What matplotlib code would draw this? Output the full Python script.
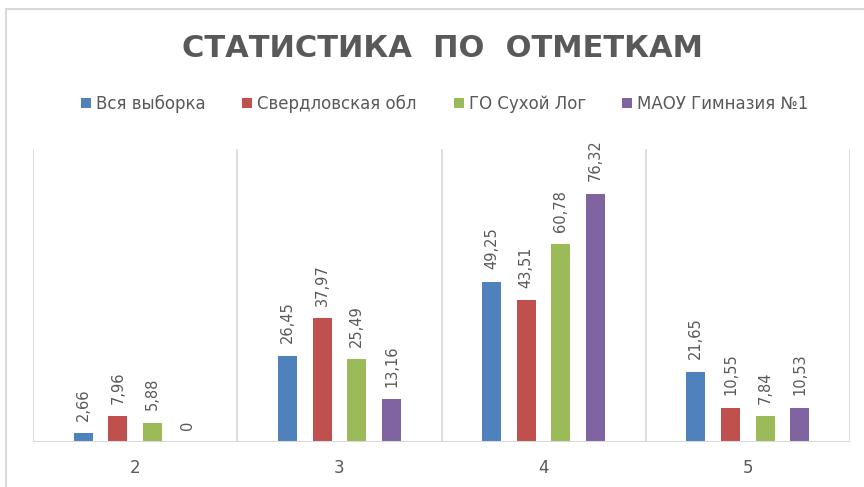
import numpy as np
import matplotlib.pyplot as plt
from matplotlib.patches import Rectangle

grades = ['2', '3', '4', '5']
series = ['Вся выборка', 'Свердловская обл', 'ГО Сухой Лог', 'МАОУ Гимназия №1']
vsya = [2.66, 26.45, 49.25, 21.65]
sverdl = [7.96, 37.97, 43.51, 10.55]
suhoi_log = [5.88, 25.49, 60.78, 7.84]
gimnaziya = [0, 13.16, 76.32, 10.53]
colors = ['#4F81BD', '#C0504D', '#9BBB59', '#8064A2']

plt.rcParams['font.family'] = ['DejaVu Sans']
txt = '#595959'

fig = plt.figure(figsize=(8.64, 4.87), dpi=100)
fig.patches.append(Rectangle((6 / 864, -0.1), 1.2, 1 - 9 / 487 + 0.1,
                             transform=fig.transFigure, fill=False,
                             edgecolor='#D9D9D9', linewidth=1.5))
ax = fig.add_axes([33 / 864, (487 - 442) / 487, (850 - 33) / 864, (442 - 149) / 487])

x = np.arange(len(grades))
offsets = [-0.255, -0.085, 0.085, 0.255]
w = 0.093
for vals, off, c, name in zip([vsya, sverdl, suhoi_log, gimnaziya], offsets, colors, series):
    ax.bar(x + off, vals, w, color=c, label=name)
    for xi, v in zip(x, vals):
        s = ('%.2f' % v).replace('.', ',') if v else '0'
        ax.annotate(s, (xi + off, v), xytext=(0, 9), textcoords='offset points',
                    rotation=90, ha='center', va='bottom', fontsize=10.5, color=txt)

ax.set_xlim(-0.5, 3.5)
ax.set_ylim(0, 90)
for b in np.arange(-0.5, 4, 1):
    ax.axvline(b, color='#D9D9D9', lw=1.2)
for s in ax.spines.values():
    s.set_visible(False)
ax.axhline(0, color='#D9D9D9', lw=1.5)
ax.set_yticks([])
ax.set_xticks(x)
ax.set_xticklabels(grades, fontsize=12, color=txt)
ax.tick_params(axis='x', length=0, pad=12)

fig.text(0.512, 0.9, 'СТАТИСТИКА  ПО  ОТМЕТКАМ', ha='center', va='center',
         fontsize=22, fontweight='bold', color=txt)
fig.legend(loc='center', bbox_to_anchor=(0.515, 0.787), ncol=4, frameon=False,
           fontsize=12, handlelength=0.6, handleheight=0.6, handletextpad=0.3,
           columnspacing=2.2, labelcolor=txt)

fig.savefig('out.png', dpi=100)
